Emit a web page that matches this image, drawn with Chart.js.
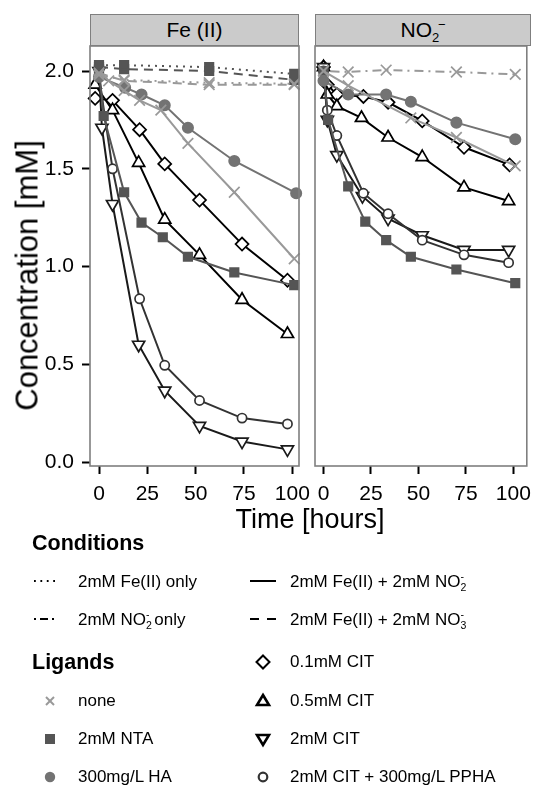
<!DOCTYPE html>
<html><head><meta charset="utf-8">
<script src="https://cdn.jsdelivr.net/npm/chart.js@4.4.0/dist/chart.umd.min.js"></script>
<style>
html,body{margin:0;padding:0;background:#fff;}
#wrap{position:relative;width:536px;height:785px;overflow:hidden;font-family:"Liberation Sans",Arial,Helvetica,sans-serif;color:#000;}
canvas{position:absolute;left:0;top:0;}
.t{position:absolute;white-space:nowrap;line-height:1;}
.strip{position:absolute;background:#cbcbcb;border:1.5px solid #7f7f7f;box-sizing:border-box;text-align:center;font-size:21px;line-height:29px;}
.lg{font-size:17px;}
.hd{font-size:21.5px;font-weight:bold;}
sub,sup{font-size:0.62em;line-height:0;}
svg{position:absolute;left:0;top:0;}
</style>
</head>
<body>
<div id="wrap">
  <canvas id="c1" width="536" height="785"></canvas>
  <canvas id="c2" width="536" height="785"></canvas>
  <div class="strip" style="left:90px;top:14px;width:209px;height:32px;">Fe (II)</div>
  <div class="strip" style="left:315px;top:14px;width:216px;height:32px;">NO<sub>2</sub><sup style="margin-left:-0.1em">−</sup></div>
  <div class="t" style="left:-173px;top:260px;width:400px;text-align:center;font-size:31px;transform:rotate(-90deg);">Concentration [mM]</div>
  <div class="t" style="left:160px;top:506px;width:300px;text-align:center;font-size:27px;">Time [hours]</div>
  <div class="t hd" style="left:32px;top:533px;">Conditions</div>
  <div class="t lg" style="left:78px;top:573px;">2mM Fe(II) only</div>
  <div class="t lg" style="left:290px;top:573px;">2mM Fe(II) + 2mM NO<sub>2</sub><sup style="margin-left:-0.55em">-</sup></div>
  <div class="t lg" style="left:78px;top:611px;">2mM NO<sub>2</sub><sup style="margin-left:-0.55em">-</sup> only</div>
  <div class="t lg" style="left:290px;top:611px;">2mM Fe(II) + 2mM NO<sub>3</sub><sup style="margin-left:-0.55em">-</sup></div>
  <div class="t hd" style="left:32px;top:652px;">Ligands</div>
  <div class="t lg" style="left:290px;top:653px;">0.1mM CIT</div>
  <div class="t lg" style="left:78px;top:692px;">none</div>
  <div class="t lg" style="left:290px;top:692px;">0.5mM CIT</div>
  <div class="t lg" style="left:78px;top:730px;">2mM NTA</div>
  <div class="t lg" style="left:290px;top:730px;">2mM CIT</div>
  <div class="t lg" style="left:78px;top:768px;">300mg/L HA</div>
  <div class="t lg" style="left:290px;top:768px;">2mM CIT + 300mg/L PPHA</div>
  <svg width="536" height="785" viewBox="0 0 536 785">
    <line x1="34" y1="581" x2="59" y2="581" stroke="#000" stroke-width="1.8" stroke-dasharray="1.8 4.6"/>
    <line x1="250" y1="581" x2="276" y2="581" stroke="#000" stroke-width="2"/>
    <line x1="34" y1="619" x2="59" y2="619" stroke="#000" stroke-width="1.8" stroke-dasharray="2 4 8 4 2 20"/>
    <line x1="250" y1="619" x2="276" y2="619" stroke="#000" stroke-width="1.8" stroke-dasharray="9 8"/>
    <g stroke="#999" stroke-width="2"><line x1="46" y1="697" x2="54" y2="705"/><line x1="46" y1="705" x2="54" y2="697"/></g>
    <rect x="45" y="734" width="10" height="10" fill="#555"/>
    <circle cx="50" cy="777" r="5.2" fill="#737373"/>
    <polygon points="263,655.5 269.5,662 263,668.5 256.5,662" fill="none" stroke="#000" stroke-width="2"/>
    <polygon points="263,695 269,705 257,705" fill="none" stroke="#000" stroke-width="2.6"/>
    <polygon points="257,735 269,735 263,745" fill="none" stroke="#000" stroke-width="2.6"/>
    <circle cx="263" cy="777" r="4.3" fill="none" stroke="#333" stroke-width="2.2"/>
  </svg>
</div>
<script>
// ---- tick values ----
const xTicks = [0, 25, 50, 75, 100];
const yTicks = [0, 0.5, 1, 1.5, 2];
const yTickLabels = ['0.0', '0.5', '1.0', '1.5', '2.0'];
const panelNames = ['Fe (II)', 'NO2-'];

// ---- Fe(II) panel: Fe(II) only (dotted) ----
const feOnlyNoneT = [0, 13, 57, 101];
const feOnlyNoneY = [1.98, 1.955, 1.94, 1.935];
const feOnlyNtaT = [0, 13, 57, 101];
const feOnlyNtaY = [2.03, 2.03, 2.02, 1.985];
// ---- Fe(II) panel: Fe(II) + NO3- (dashed) ----
const feNo3NoneT = [0, 13, 57, 101];
const feNo3NoneY = [1.99, 1.95, 1.93, 1.93];
const feNo3NtaT = [0, 13, 57, 101];
const feNo3NtaY = [2.02, 2.01, 2.0, 1.955];
// ---- Fe(II) panel: Fe(II) + NO2- (solid) ----
const feNoneT = [0, 5, 13, 21, 32, 46, 70, 101];
const feNoneY = [2.0, 1.95, 1.9, 1.85, 1.8, 1.63, 1.38, 1.04];
const feNtaT = [0, 2.4, 13, 22, 33, 46, 70, 101];
const feNtaY = [2.01, 1.77, 1.38, 1.225, 1.15, 1.05, 0.97, 0.905];
const feHaT = [0, 13.5, 22, 34, 46, 70, 102];
const feHaY = [1.97, 1.915, 1.88, 1.825, 1.71, 1.54, 1.375];
const feC01T = [-2, 7, 21, 34, 52, 74, 97.5];
const feC01Y = [1.86, 1.85, 1.70, 1.525, 1.34, 1.115, 0.93];
const feC05T = [-2, 7, 20.5, 34, 52, 74, 97.5];
const feC05Y = [1.93, 1.80, 1.53, 1.24, 1.06, 0.83, 0.655];
const feC2T = [0, 1.5, 7, 20.5, 34, 52, 74, 97.5];
const feC2Y = [2.0, 1.71, 1.32, 0.6, 0.365, 0.185, 0.105, 0.065];
const fePpT = [0, 7, 21, 34, 52, 74, 97.5];
const fePpY = [1.97, 1.5, 0.835, 0.495, 0.315, 0.225, 0.195];

// ---- NO2- panel: NO2- only (dash-dot) ----
const noOnlyNoneT = [0, 13, 33, 70, 101];
const noOnlyNoneY = [2.0, 1.995, 2.005, 1.995, 1.983];
// ---- NO2- panel: Fe(II) + NO2- (solid) ----
const noNoneT = [0, 13, 46, 70, 101];
const noNoneY = [2.0, 1.925, 1.76, 1.66, 1.515];
const noNtaT = [0, 2.4, 13, 22, 33, 46, 70, 101];
const noNtaY = [2.0, 1.75, 1.41, 1.23, 1.135, 1.05, 0.985, 0.915];
const noHaT = [0, 13, 33, 46, 70, 101];
const noHaY = [1.95, 1.88, 1.88, 1.843, 1.736, 1.651];
const noC01T = [0, 2, 7, 21, 34, 52, 74, 98];
const noC01Y = [2.02, 1.93, 1.88, 1.87, 1.84, 1.745, 1.61, 1.52];
const noC05T = [0, 2, 7, 20, 34, 52, 74, 97.5];
const noC05Y = [2.02, 1.88, 1.82, 1.76, 1.66, 1.56, 1.405, 1.335];
const noC2T = [0, 2, 7, 20.5, 34, 52, 74, 97.5];
const noC2Y = [2.02, 1.75, 1.57, 1.36, 1.245, 1.16, 1.085, 1.085];
const noPpT = [0, 2, 7, 21, 34, 52, 74, 97.5];
const noPpY = [2.0, 1.8, 1.67, 1.375, 1.27, 1.135, 1.06, 1.02];

// ---- styles ----
const LIG = {
  none:  {ps: 'crossRot', color: '#999999', fill: '#999999', r: 7.5, rot: 0, lw: 2},
  nta:   {ps: 'rect',     color: '#555555', fill: '#555555', r: 6,   rot: 0, lw: 2},
  ha:    {ps: 'circle',   color: '#737373', fill: '#737373', r: 5.2, rot: 0, lw: 2},
  c01:   {ps: 'rectRot',  color: '#000000', fill: '#ffffff', r: 6.5, rot: 0, lw: 2},
  c05:   {ps: 'triangle', color: '#000000', fill: '#ffffff', r: 7,   rot: 0, lw: 2},
  c2:    {ps: 'triangle', color: '#1a1a1a', fill: '#ffffff', r: 7,   rot: 180, lw: 2},
  pp:    {ps: 'circle',   color: '#333333', fill: '#ffffff', r: 4.6, rot: 0, lw: 2}
};
const COND = {fe: [2, 5], no2: [2, 5, 9, 5], both: [], no3: [9, 6]};

function pts(t, y) { return t.map((x, i) => ({x: x, y: y[i]})); }
function ds(t, y, lig, cond) {
  const L = LIG[lig];
  return {
    data: pts(t, y), borderColor: L.color, backgroundColor: L.fill,
    pointBackgroundColor: L.fill, pointBorderColor: L.color,
    pointStyle: L.ps, pointRadius: L.r, pointRotation: L.rot,
    pointBorderWidth: 1.7, borderWidth: L.lw, borderDash: COND[cond],
    tension: 0, fill: false, clip: 8
  };
}

const borderPlugin = {
  id: 'panelBorder',
  afterDraw(chart) {
    const a = chart.chartArea, c = chart.ctx;
    c.save(); c.strokeStyle = '#7f7f7f'; c.lineWidth = 1.6;
    c.strokeRect(a.left, a.top, a.right - a.left, a.bottom - a.top);
    c.restore();
  }
};

function opts(xmin, xmax, showY, pad) {
  return {
    responsive: false, animation: false,
    layout: {padding: pad},
    plugins: {legend: {display: false}, tooltip: {enabled: false}, title: {display: false}},
    scales: {
      x: {
        type: 'linear', min: xmin, max: xmax,
        afterBuildTicks: s => { s.ticks = xTicks.map(v => ({value: v})); },
        afterFit: s => { s.height = 40; s.paddingLeft = 0; s.paddingRight = 0; },
        grid: {drawOnChartArea: false, drawTicks: true, tickLength: 8, tickColor: '#000', tickWidth: 2},
        border: {display: false},
        ticks: {autoSkip: false, maxRotation: 0, padding: 8, color: '#000', font: {size: 21, family: '"Liberation Sans", Arial'}}
      },
      y: {
        type: 'linear', min: -0.02, max: 2.128, display: showY,
        afterBuildTicks: s => { s.ticks = yTicks.map(v => ({value: v})); },
        afterFit: s => { s.width = showY ? 90 : 0; s.paddingTop = 0; s.paddingBottom = 0; },
        grid: {drawOnChartArea: false, drawTicks: true, tickLength: 8, tickColor: '#000', tickWidth: 2},
        border: {display: false},
        ticks: {padding: 8, color: '#000', font: {size: 21, family: '"Liberation Sans", Arial'},
          callback: v => yTickLabels[yTicks.indexOf(v)]}
      }
    }
  };
}

new Chart(document.getElementById('c1'), {
  type: 'line',
  data: {datasets: [
    ds(feOnlyNoneT, feOnlyNoneY, 'none', 'fe'),
    ds(feNo3NoneT, feNo3NoneY, 'none', 'no3'),
    ds(feOnlyNtaT, feOnlyNtaY, 'nta', 'fe'),
    ds(feNo3NtaT, feNo3NtaY, 'nta', 'no3'),
    ds(feNoneT, feNoneY, 'none', 'both'),
    ds(feHaT, feHaY, 'ha', 'both'),
    ds(feNtaT, feNtaY, 'nta', 'both'),
    ds(fePpT, fePpY, 'pp', 'both'),
    ds(feC2T, feC2Y, 'c2', 'both'),
    ds(feC05T, feC05Y, 'c05', 'both'),
    ds(feC01T, feC01Y, 'c01', 'both')
  ]},
  options: opts(-4.66, 103.47, true, {left: 0, top: 46, right: 237, bottom: 279}),
  plugins: [borderPlugin]
});

new Chart(document.getElementById('c2'), {
  type: 'line',
  data: {datasets: [
    ds(noOnlyNoneT, noOnlyNoneY, 'none', 'no2'),
    ds(noNoneT, noNoneY, 'none', 'both'),
    ds(noHaT, noHaY, 'ha', 'both'),
    ds(noNtaT, noNtaY, 'nta', 'both'),
    ds(noPpT, noPpY, 'pp', 'both'),
    ds(noC2T, noC2Y, 'c2', 'both'),
    ds(noC05T, noC05Y, 'c05', 'both'),
    ds(noC01T, noC01Y, 'c01', 'both')
  ]},
  options: opts(-4.49, 107.08, false, {left: 315, top: 46, right: 5, bottom: 279}),
  plugins: [borderPlugin]
});
</script>
</body></html>
